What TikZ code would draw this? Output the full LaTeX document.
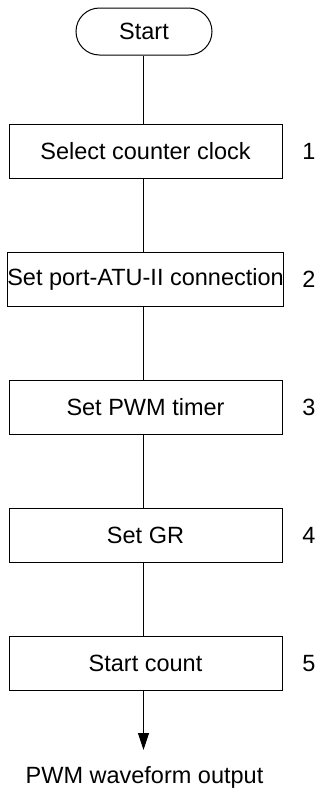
\documentclass[tikz,border=0pt]{standalone}
\usepackage{fontspec}
\setmainfont{Liberation Sans}
\usetikzlibrary{arrows.meta,shapes.misc}
\begin{document}
\begin{tikzpicture}[x=1pt,y=-1pt,
  every node/.style={font=\fontsize{23.5}{28}\selectfont},
  stepbox/.style={draw,line width=1pt,minimum width=273pt,minimum height=54pt,inner sep=0pt},
  term/.style={draw,line width=1pt,rounded rectangle,minimum width=136pt,minimum height=47pt,inner sep=0pt},
  conn/.style={line width=1pt},
  numlbl/.style={anchor=center}]
\useasboundingbox (0,0) rectangle (320,788);
\node[term] (start) at (144,31.5) {Start};
\node[stepbox] (s1) at (145.5,151) {Select counter clock};
\node[stepbox] (s2) at (145.5,279.5) {Set port-ATU-II connection};
\node[stepbox] (s3) at (145.5,407.5) {Set PWM timer};
\node[stepbox] (s4) at (145.5,535.5) {Set GR};
\node[stepbox] (s5) at (145.5,663.5) {Start count};
\node[numlbl] (n1) at (309,151) {1};
\node[numlbl] (n2) at (309,279.5) {2};
\node[numlbl] (n3) at (309,407.5) {3};
\node[numlbl] (n4) at (309,535.5) {4};
\node[numlbl] (n5) at (309,663.5) {5};
\node[anchor=base] (out) at (144.5,783) {PWM waveform output};
\coordinate (tip) at (143.5,750);
\draw[conn] (start.south -| tip) -- (s1.north -| tip);
\draw[conn] (s1.south -| tip) -- (s2.north -| tip);
\draw[conn] (s2.south -| tip) -- (s3.north -| tip);
\draw[conn] (s3.south -| tip) -- (s4.north -| tip);
\draw[conn] (s4.south -| tip) -- (s5.north -| tip);
\draw[conn,-{Triangle[width=11pt,length=17pt]}] (s5.south -| tip) -- (tip);
\end{tikzpicture}
\end{document}
